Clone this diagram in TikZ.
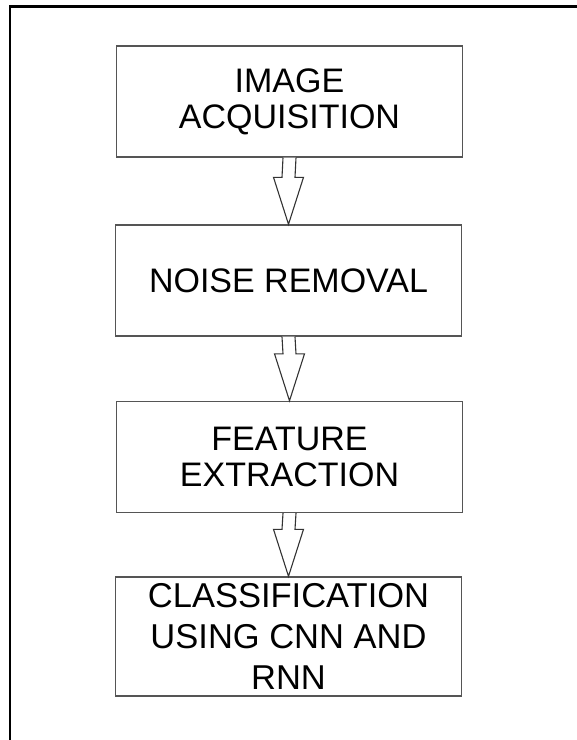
\documentclass[tikz,border=0pt]{standalone}
\usepackage{fontspec}
\setmainfont{Liberation Sans}
\usepackage{xcolor}
\usepackage{tikz}
\usetikzlibrary{positioning, calc}
\definecolor{boxGray}{RGB}{85, 85, 85}

\begin{document}
\begin{tikzpicture}[x=1pt, y=-1pt,
    stagebox/.style={draw=boxGray, line width=1.4pt, fill=white, inner sep=0pt,
        minimum width=346pt, minimum height=111pt, align=center,
        font=\fontsize{34}{36}\selectfont},
    hollow/.style={draw=black!80, line width=1.1pt, fill=white, line join=miter}]
        \useasboundingbox (0,0) rectangle (577,740);

        % Marco de la figura
        \coordinate (fb) at (10,740);
        \coordinate (fc) at (10,6.5);
        \coordinate (fr) at (577,6.5);
        \draw[line width=2.6pt] (fb) -- (fc) -- (fr);

        % Etapas del proceso
        \node[stagebox] (acq) at (289.5, 101.5) {IMAGE\\ACQUISITION};
        \node[stagebox] (noise) at (288.5, 280.5) {NOISE REMOVAL};
        \node[stagebox] (feat) at (289.5, 457) {FEATURE\\EXTRACTION};
        \node[stagebox, minimum height=119pt, font=\fontsize{34.5}{41}\selectfont] (cls) at (288.5, 636.5) {CLASSIFICATION\\USING CNN AND\\RNN};

        % Flechas huecas entre etapas
        \foreach \a/\b in {acq/noise, noise/feat, feat/cls} {
            \draw[hollow] ($(\a.south)+(-6.5,0)$) -- ($(\b.north)+(-6.5,-47)$)
                -- ($(\b.north)+(-15,-47)$) -- (\b.north) -- ($(\b.north)+(15,-47)$)
                -- ($(\b.north)+(6.5,-47)$) -- ($(\a.south)+(6.5,0)$);
        }
    \end{tikzpicture}
\end{document}
